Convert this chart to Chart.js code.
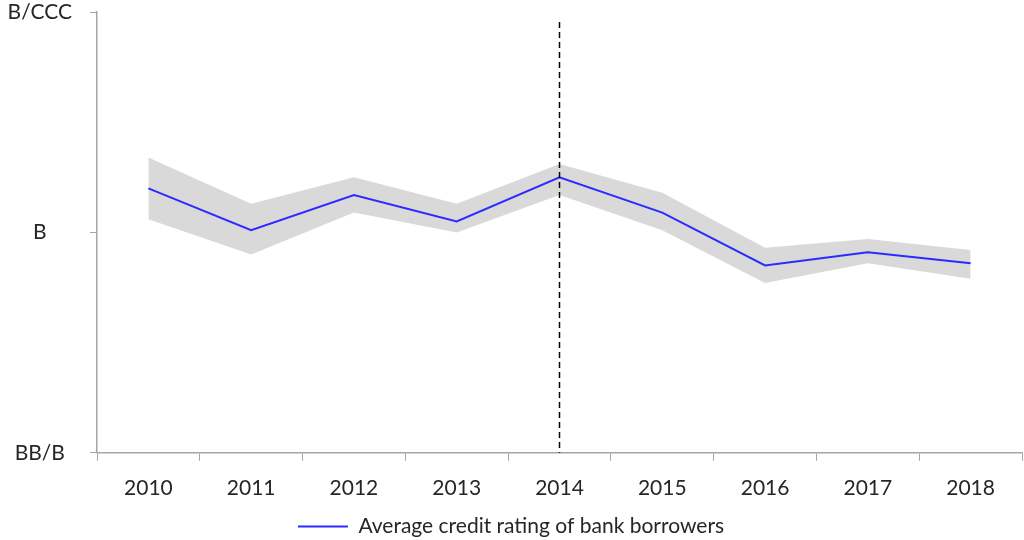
<!DOCTYPE html>
<html>
<head>
<meta charset="utf-8">
<script src="https://cdn.jsdelivr.net/npm/chart.js@4/dist/chart.umd.min.js"></script>
<style>
    html, body { margin: 0; padding: 0; background: #ffffff; }
    #wrap { width: 1024px; height: 540px; }
</style>
</head>
<body>
<div id="wrap"><canvas id="ratingChart"></canvas></div>
<script>
// Data (0 = BB/B, 1 = B, 2 = B/CCC)
const years = ["2010", "2011", "2012", "2013", "2014", "2015", "2016", "2017", "2018"];
const avgRating = [1.20, 1.01, 1.17, 1.05, 1.25, 1.09, 0.85, 0.91, 0.86];
const bandUpper = [1.34, 1.13, 1.25, 1.13, 1.31, 1.18, 0.93, 0.97, 0.92];
const bandLower = [1.06, 0.90, 1.09, 1.00, 1.17, 1.01, 0.77, 0.86, 0.79];
const ratingLabels = ["BB/B", "B", "B/CCC"];
const markerYear = "2014";

const textColor = "#262626";
const axisColor = "#a6a6a6";
const font = { family: "Lato, sans-serif", size: 21 };

// Dashed vertical marker line at the chosen year
const markerLine = {
    id: "markerLine",
    afterDatasetsDraw(chart) {
        const { ctx, chartArea, scales } = chart;
        const x = scales.x.getPixelForValue(years.indexOf(markerYear));
        ctx.save();
        ctx.strokeStyle = "#000000";
        ctx.lineWidth = 1.5;
        ctx.setLineDash([6, 4]);
        ctx.beginPath();
        ctx.moveTo(x, chartArea.top + 10);
        ctx.lineTo(x, chartArea.bottom);
        ctx.stroke();
        ctx.restore();
    }
};

const ctx = document.getElementById("ratingChart").getContext("2d");
new Chart(ctx, {
    type: "line",
    data: {
        labels: years,
        datasets: [
            {
                label: "Average credit rating of bank borrowers",
                data: avgRating,
                borderColor: "#2b2bff",
                backgroundColor: "#2b2bff",
                borderWidth: 2,
                pointRadius: 0,
                fill: false,
                tension: 0,
                order: 0
            },
            {
                label: "upper",
                data: bandUpper,
                borderWidth: 0,
                pointRadius: 0,
                backgroundColor: "#d9d9d9",
                fill: "+1",
                order: 1
            },
            {
                label: "lower",
                data: bandLower,
                borderWidth: 0,
                pointRadius: 0,
                fill: false,
                order: 2
            }
        ]
    },
    options: {
        responsive: true,
        maintainAspectRatio: false,
        animation: false,
        layout: { padding: { top: 12, right: 2, left: 0, bottom: -7 } },
        plugins: {
            tooltip: { enabled: false },
            legend: {
                position: "bottom",
                labels: {
                    filter: item => item.datasetIndex === 0,
                    usePointStyle: true,
                    pointStyle: "line",
                    pointStyleWidth: 50,
                    boxHeight: 2,
                    color: textColor,
                    font: { family: font.family, size: font.size, lineHeight: 1.0 },
                    padding: 0
                }
            }
        },
        scales: {
            x: {
                offset: true,
                grid: {
                    offset: true,
                    drawOnChartArea: false,
                    drawTicks: true,
                    tickLength: 8,
                    color: axisColor
                },
                border: { color: axisColor, width: 1.5 },
                ticks: { color: textColor, font: font, padding: 15 }
            },
            y: {
                min: 0,
                max: 2,
                afterFit: scale => {
                    scale.width = 97;
                    scale.paddingTop = 0;
                    scale.paddingBottom = 0;
                },
                grid: {
                    drawOnChartArea: false,
                    drawTicks: true,
                    tickLength: 7,
                    color: axisColor
                },
                border: { color: axisColor, width: 1.5 },
                ticks: {
                    stepSize: 1,
                    color: textColor,
                    font: font,
                    crossAlign: "center",
                    padding: 18,
                    callback: v => ratingLabels[v]
                }
            }
        }
    },
    plugins: [markerLine]
});
</script>
</body>
</html>
